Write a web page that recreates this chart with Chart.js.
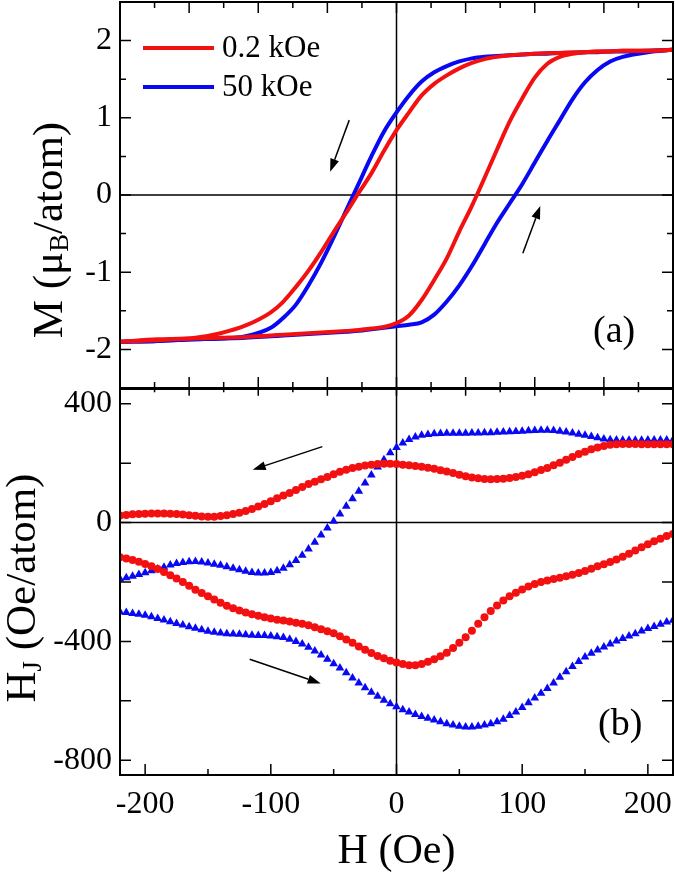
<!DOCTYPE html>
<html>
<head>
<meta charset="utf-8">
<script src="https://cdn.jsdelivr.net/npm/chart.js@4.4.1/dist/chart.umd.min.js"></script>
<style>
  body { margin: 0; background: #fff; }
  #caixa { position: relative; width: 675px; height: 873px; }
  canvas { position: absolute; left: 0; top: 0; }
</style>
</head>
<body>
<div id="caixa">
  <canvas id="painelA" width="675" height="873"></canvas>
  <canvas id="painelB" width="675" height="873"></canvas>
</div>
<script>
// (a) campo H (Oe) e magnetizacao M (muB/atom)
const campoA = [-220, -190, -160, -140, -120, -100, -90, -80, -70, -60, -50, -40, -30, -20, -10, 0,
  10, 20, 30, 40, 50, 60, 70, 80, 90, 100, 110, 120, 130, 140, 150, 160, 170, 180, 200, 220];
const mVermelhoDesce = [-1.90, -1.87, -1.85, -1.79, -1.69, -1.52, -1.38, -1.19, -0.98, -0.74, -0.48, -0.23, 0.03, 0.28, 0.57, 0.84,
  1.07, 1.29, 1.44, 1.55, 1.64, 1.71, 1.76, 1.79, 1.81, 1.82, 1.83, 1.84, 1.84, 1.85, 1.85, 1.86, 1.86, 1.87, 1.87, 1.88];
const mVermelhoSobe = [-1.90, -1.88, -1.86, -1.85, -1.84, -1.82, -1.81, -1.80, -1.79, -1.78, -1.77, -1.76, -1.75, -1.73, -1.71, -1.66,
  -1.56, -1.36, -1.10, -0.82, -0.47, -0.14, 0.22, 0.59, 0.95, 1.25, 1.52, 1.70, 1.79, 1.83, 1.85, 1.86, 1.86, 1.87, 1.87, 1.88];
const mAzulDesce = [-1.90, -1.89, -1.87, -1.86, -1.83, -1.72, -1.59, -1.42, -1.17, -0.88, -0.55, -0.20, 0.15, 0.50, 0.82, 1.07,
  1.29, 1.47, 1.59, 1.67, 1.73, 1.77, 1.79, 1.80, 1.81, 1.82, 1.83, 1.83, 1.84, 1.84, 1.85, 1.85, 1.86, 1.86, 1.87, 1.88];
const mAzulSobe = [-1.90, -1.89, -1.87, -1.86, -1.85, -1.83, -1.82, -1.81, -1.80, -1.79, -1.78, -1.77, -1.76, -1.74, -1.72, -1.70,
  -1.68, -1.65, -1.55, -1.38, -1.17, -0.92, -0.64, -0.36, -0.11, 0.14, 0.42, 0.70, 0.97, 1.24, 1.46, 1.62, 1.73, 1.79, 1.85, 1.88];

// (b) campo H (Oe) e H_J (Oe/atom)
const campoB = [-220, -215, -210, -205, -200, -195, -190, -185, -180, -175, -170, -165, -160, -155, -150, -145, -140, -135,
  -130, -125, -120, -115, -110, -105, -100, -95, -90, -85, -80, -75, -70, -65, -60, -55, -50, -45, -40, -35, -30, -25,
  -20, -15, -10, -5, 0, 5, 10, 15, 20, 25, 30, 35, 40, 45, 50, 55, 60, 65, 70, 75, 80, 85, 90, 95, 100, 105, 110, 115,
  120, 125, 130, 135, 140, 145, 150, 155, 160, 165, 170, 175, 180, 185, 190, 195, 200, 205, 210, 215, 220];
const hjVermelhoDesce = [24, 26, 28, 29, 30, 31, 31, 31, 30, 29, 27, 25, 23, 21, 20, 20, 22, 25, 29, 33,
  39, 46, 54, 63, 72, 82, 91, 100, 110, 120, 130, 138, 146, 154, 163, 171, 178, 184, 188, 192,
  195, 197, 198, 198, 197, 195, 193, 191, 188, 185, 181, 176, 172, 167, 161, 156, 152, 149, 147, 146,
  147, 148, 150, 154, 158, 163, 170, 177, 184, 193, 202, 212, 221, 231, 239, 247, 253, 258, 262, 264,
  265, 265, 265, 264, 264, 264, 264, 264, 264];
const hjVermelhoSobe = [-117, -121, -126, -132, -139, -147, -156, -166, -177, -188, -200, -213, -226, -237, -248, -259, -270, -280, -288, -296,
  -303, -309, -314, -319, -323, -327, -330, -333, -337, -341, -346, -352, -359, -366, -373, -383, -394, -405, -417, -428,
  -439, -449, -457, -465, -471, -476, -480, -480, -476, -469, -460, -450, -438, -422, -405, -386, -364, -341, -319, -298,
  -279, -262, -248, -236, -225, -215, -207, -200, -195, -190, -186, -181, -176, -170, -163, -155, -147, -140, -133, -124,
  -115, -105, -94, -83, -73, -63, -54, -45, -38];
const hjAzulDesce = [-190, -186, -181, -175, -169, -162, -156, -150, -143, -138, -134, -132, -131, -133, -136, -140, -144, -149, -154, -159,
  -164, -168, -170, -170, -168, -162, -154, -142, -128, -110, -89, -66, -42, -18, 5, 29, 55, 80, 106, 133,
  160, 187, 212, 235, 253, 268, 280, 288, 294, 297, 299, 300, 301, 301, 301, 301, 302, 302, 303, 303,
  304, 305, 306, 307, 308, 309, 310, 311, 311, 310, 308, 305, 302, 298, 294, 290, 286, 282, 279, 278,
  277, 277, 277, 277, 278, 278, 278, 278, 278];
const hjAzulSobe = [-301, -303, -306, -309, -312, -317, -323, -328, -334, -340, -345, -351, -356, -361, -366, -369, -372, -374, -375, -376,
  -378, -379, -380, -380, -382, -384, -387, -393, -400, -409, -420, -432, -446, -460, -475, -490, -506, -523, -540, -556,
  -571, -585, -598, -610, -620, -630, -638, -646, -653, -659, -665, -671, -677, -682, -686, -688, -688, -686, -682, -677,
  -671, -662, -650, -638, -623, -607, -591, -575, -559, -540, -521, -502, -485, -468, -453, -440, -429, -419, -409, -399,
  -390, -382, -374, -365, -357, -350, -342, -335, -329];

const nomesSeries = ['0.2 kOe', '50 kOe'];
const VERMELHO = '#f21010';
const AZUL = '#0808f2';
const SERIFA = '"Liberation Serif", "Times New Roman", serif';

function pares(xs, ys) {
  return xs.map((x, i) => ({ x: x, y: ys[i] }));
}

function fonte(tam) {
  return tam + 'px ' + SERIFA;
}

function listaMarcas(lo, hi, base, passo, maior) {
  const lista = [];
  for (let v = base; v <= hi + 1e-6; v += passo) {
    if (v > lo + 1e-6 && v < hi - 1e-6) {
      const r = v / maior;
      lista.push({ v: v, grande: Math.abs(r - Math.round(r)) < 1e-6 });
    }
  }
  return lista;
}

function seta(ctx, x1, y1, x2, y2) {
  const ang = Math.atan2(y2 - y1, x2 - x1);
  const cab = 13, larg = 4.5;
  const c = Math.cos(ang), s = Math.sin(ang);
  ctx.beginPath();
  ctx.moveTo(x1, y1);
  ctx.lineTo(x2 - cab * c, y2 - cab * s);
  ctx.stroke();
  ctx.beginPath();
  ctx.moveTo(x2, y2);
  ctx.lineTo(x2 - cab * c + larg * s, y2 - cab * s - larg * c);
  ctx.lineTo(x2 - cab * c - larg * s, y2 - cab * s + larg * c);
  ctx.closePath();
  ctx.fill();
}

// titulo vertical com subscrito
function tituloY(ctx, partes, x, y, tam) {
  ctx.save();
  ctx.translate(x, y);
  ctx.rotate(-Math.PI / 2);
  ctx.textBaseline = 'alphabetic';
  ctx.textAlign = 'left';
  let total = 0;
  partes.forEach(([t, sub]) => {
    ctx.font = fonte(sub ? tam * 0.62 : tam);
    total += ctx.measureText(t).width;
  });
  let cx = -total / 2;
  partes.forEach(([t, sub]) => {
    ctx.font = fonte(sub ? tam * 0.62 : tam);
    ctx.fillText(t, cx, sub ? tam * 0.14 : 0);
    cx += ctx.measureText(t).width;
  });
  ctx.restore();
}

const moldura = {
  id: 'moldura',
  beforeDatasetsDraw(chart) {
    const { ctx, chartArea: a, scales: { x, y } } = chart;
    ctx.save();
    ctx.strokeStyle = '#000';
    ctx.lineWidth = 1.5;
    ctx.beginPath();
    const x0 = x.getPixelForValue(0), y0 = y.getPixelForValue(0);
    ctx.moveTo(x0, a.top); ctx.lineTo(x0, a.bottom); // linha vertical H = 0
    ctx.moveTo(a.left, y0); ctx.lineTo(a.right, y0); // linha horizontal zero
    ctx.stroke();
    ctx.restore();
  },
  afterDraw(chart, args, op) {
    const { ctx, chartArea: a, scales: { x, y } } = chart;
    ctx.save();
    ctx.strokeStyle = '#000';
    ctx.fillStyle = '#000';
    ctx.lineWidth = 2;
    ctx.strokeRect(a.left, a.top, a.right - a.left, a.bottom - a.top);

    // marcas para dentro
    ctx.lineWidth = 1.5;
    ctx.beginPath();
    const my = op.marcasY;
    listaMarcas(y.min, y.max, my.base, my.passo, my.maior).forEach(m => {
      const py = y.getPixelForValue(m.v);
      const len = m.grande ? 11 : 6;
      ctx.moveTo(a.left, py); ctx.lineTo(a.left + len, py);
      ctx.moveTo(a.right, py); ctx.lineTo(a.right - len, py);
    });
    const mx = op.marcasX;
    listaMarcas(x.min, x.max, mx.base, mx.passo, mx.maior).forEach(m => {
      const px = x.getPixelForValue(m.v);
      const len = m.grande ? 11 : 6;
      if (mx.topo) { ctx.moveTo(px, a.top); ctx.lineTo(px, a.top + len); }
      if (mx.baixo) { ctx.moveTo(px, a.bottom + (mx.cruza ? len * 0.7 : 0)); ctx.lineTo(px, a.bottom - len); }
    });
    ctx.stroke();

    // setas
    ctx.lineWidth = 1.5;
    op.setas.forEach(s => {
      seta(ctx, x.getPixelForValue(s[0]), y.getPixelForValue(s[1]),
        x.getPixelForValue(s[2]), y.getPixelForValue(s[3]));
    });

    // rotulo do painel
    ctx.font = fonte(38);
    ctx.textAlign = 'left';
    ctx.textBaseline = 'alphabetic';
    ctx.fillText(op.rotulo.texto, op.rotulo.x, op.rotulo.y);

    // titulos dos eixos
    tituloY(ctx, op.tituloY.partes, op.tituloY.x, op.tituloY.y, 43);
    if (op.tituloX) {
      ctx.font = fonte(42);
      ctx.textAlign = 'center';
      ctx.fillText(op.tituloX.texto, (a.left + a.right) / 2, op.tituloX.y);
    }

    // legenda
    if (op.legenda) {
      const cores = [VERMELHO, AZUL];
      const ys = [48, 87];
      ctx.lineWidth = 4;
      ctx.font = fonte(31);
      ctx.textAlign = 'left';
      ctx.textBaseline = 'middle';
      nomesSeries.forEach((nome, i) => {
        ctx.strokeStyle = cores[i];
        ctx.beginPath();
        ctx.moveTo(143, ys[i]); ctx.lineTo(214, ys[i]);
        ctx.stroke();
        ctx.fillStyle = '#000';
        ctx.fillText(nome, 222, ys[i] + 1);
      });
    }
    ctx.restore();
  }
};

const fonteTicks = { family: SERIFA, size: 32 };

// zera o padding automatico que os rotulos das pontas pedem
function semPadding(s) {
  s.paddingTop = 0; s.paddingBottom = 0; s.paddingLeft = 0; s.paddingRight = 0;
}

function eixoY(min, max, passo, filtro) {
  return {
    type: 'linear', min: min, max: max,
    ticks: { stepSize: passo, includeBounds: false, font: fonteTicks, color: '#000', padding: 8, autoSkip: false },
    grid: { display: false, drawTicks: false },
    border: { display: false },
    afterBuildTicks: s => { s.ticks = s.ticks.filter(t => filtro(t.value)); },
    afterFit: s => { s.width = 120; semPadding(s); }
  };
}

const linhaA = { showLine: true, pointRadius: 0, borderWidth: 4, cubicInterpolationMode: 'monotone' };

new Chart(document.getElementById('painelA'), {
  type: 'scatter',
  data: {
    datasets: [
      { label: nomesSeries[0], data: pares(campoA, mVermelhoSobe), borderColor: VERMELHO, ...linhaA },
      { label: nomesSeries[0], data: pares(campoA, mVermelhoDesce), borderColor: VERMELHO, ...linhaA },
      { label: nomesSeries[1], data: pares(campoA, mAzulSobe), borderColor: AZUL, ...linhaA },
      { label: nomesSeries[1], data: pares(campoA, mAzulDesce), borderColor: AZUL, ...linhaA }
    ]
  },
  options: {
    responsive: false,
    animation: false,
    layout: { padding: { top: 2, right: 2, bottom: 485, left: 0 }, autoPadding: false },
    plugins: {
      legend: { display: false },
      tooltip: { enabled: false },
      moldura: {
        marcasY: { base: -2.5, passo: 0.5, maior: 1 },
        marcasX: { base: -220, passo: 27.5, maior: 55, topo: true, baixo: true, cruza: true },
        setas: [[-37.6, 0.97, -52.8, 0.30], [100.5, -0.755, 114.4, -0.142]],
        rotulo: { texto: '(a)', x: 593, y: 342 },
        tituloY: { partes: [['M (\u03bc'], ['B', true], ['/atom)']], x: 62, y: 230 },
        legenda: true
      }
    },
    scales: {
      x: { type: 'linear', min: -220, max: 220, display: false },
      y: eixoY(-2.5, 2.5, 0.5, v => Math.abs(v - Math.round(v)) < 1e-6)
    }
  },
  plugins: [moldura]
});

const pontoB = { showLine: false, borderWidth: 0, pointBorderWidth: 0 };

new Chart(document.getElementById('painelB'), {
  type: 'scatter',
  data: {
    datasets: [
      { label: nomesSeries[0], data: pares(campoB, hjVermelhoDesce), backgroundColor: VERMELHO, pointStyle: 'circle', pointRadius: 4, ...pontoB },
      { label: nomesSeries[0], data: pares(campoB, hjVermelhoSobe), backgroundColor: VERMELHO, pointStyle: 'circle', pointRadius: 4, ...pontoB },
      { label: nomesSeries[1], data: pares(campoB, hjAzulDesce), backgroundColor: AZUL, pointStyle: 'triangle', pointRadius: 5, ...pontoB },
      { label: nomesSeries[1], data: pares(campoB, hjAzulSobe), backgroundColor: AZUL, pointStyle: 'triangle', pointRadius: 5, ...pontoB }
    ]
  },
  options: {
    responsive: false,
    animation: false,
    layout: { padding: { top: 389, right: 2, bottom: 0, left: 0 }, autoPadding: false },
    plugins: {
      legend: { display: false },
      tooltip: { enabled: false },
      moldura: {
        marcasY: { base: -800, passo: 200, maior: 200 },
        marcasX: { base: -200, passo: 50, maior: 100, topo: false, baixo: true },
        setas: [[-59, 256, -114.4, 178], [-116.8, -460, -60.3, -542]],
        rotulo: { texto: '(b)', x: 598, y: 735 },
        tituloY: { partes: [['H'], ['J', true], [' (Oe/atom)']], x: 35, y: 588 },
        tituloX: { texto: 'H (Oe)', y: 863 }
      }
    },
    scales: {
      x: {
        type: 'linear', min: -220, max: 220,
        ticks: { stepSize: 100, includeBounds: false, font: fonteTicks, color: '#000', padding: 10, autoSkip: false, maxRotation: 0 },
        grid: { display: false, drawTicks: false },
        border: { display: false },
        afterBuildTicks: s => { s.ticks = s.ticks.filter(t => t.value % 100 === 0); },
        afterFit: s => { s.height = 98; semPadding(s); }
      },
      y: eixoY(-850, 450, 200, v => v % 400 === 0)
    }
  },
  plugins: [moldura]
});
</script>
</body>
</html>
